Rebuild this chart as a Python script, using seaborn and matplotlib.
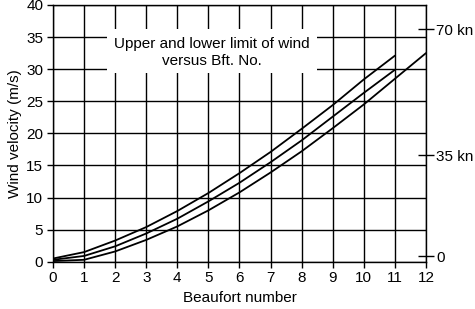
import matplotlib
matplotlib.use("Agg")
import matplotlib.pyplot as plt
from matplotlib.patches import Rectangle
import seaborn as sns
import pandas as pd

beaufort_upper = [0, 1, 2, 3, 4, 5, 6, 7, 8, 9, 10, 11]
upper_limit = [0.5, 1.5, 3.3, 5.4, 7.9, 10.7, 13.8, 17.1, 20.7, 24.4, 28.4, 32.1]
beaufort_mid = [0, 1, 2, 3, 4, 5, 6, 7, 8, 9, 10, 11]
mid_value = [0.3, 0.9, 2.4, 4.4, 6.7, 9.4, 12.3, 15.5, 18.9, 22.6, 26.3, 29.9]
beaufort_lower = [0, 1, 2, 3, 4, 5, 6, 7, 8, 9, 10, 11, 12]
lower_limit = [0.1, 0.3, 1.6, 3.4, 5.5, 8.0, 10.8, 13.9, 17.2, 20.8, 24.5, 28.5, 32.5]

x_ticks = list(range(0, 13))
y_ticks = [0, 5, 10, 15, 20, 25, 30, 35, 40]
knot_positions = [0.85, 16.6, 36.2]
knot_labels = ["0", "35 kn", "70 kn"]
title_text = "Upper and lower limit of wind\nversus Bft. No."

sns.set_theme(style="white")
plt.rcParams["font.family"] = ["Liberation Sans", "DejaVu Sans"]

fig = plt.figure(figsize=(4.75, 3.09), dpi=100)
ax = fig.add_axes([0.1116, 0.153, 0.7852, 0.831])

df = pd.concat([
    pd.DataFrame({"B": beaufort_upper, "v": upper_limit, "s": "upper"}),
    pd.DataFrame({"B": beaufort_mid, "v": mid_value, "s": "mid"}),
    pd.DataFrame({"B": beaufort_lower, "v": lower_limit, "s": "lower"}),
])
sns.lineplot(data=df, x="B", y="v", hue="s", palette=["black"] * 3,
             legend=False, ax=ax, linewidth=1.3, zorder=3, sort=False)

ax.set_xlim(0, 12)
ax.set_ylim(0, 40)
ax.set_xticks(x_ticks)
ax.set_yticks(y_ticks)
ax.grid(True, color="black", linewidth=1.0)
ax.set_axisbelow(True)
for s in ax.spines.values():
    s.set_color("black")
    s.set_linewidth(1.0)
ax.tick_params(axis="both", direction="out", length=4, width=1.0,
               color="black", labelsize=11, labelcolor="black", pad=3,
               left=True, bottom=True)
ax.set_xlabel("Beaufort number", fontsize=11, color="black", labelpad=4)
ax.set_ylabel("Wind velocity (m/s)", fontsize=11, color="black", labelpad=3)

ax.add_patch(Rectangle((1.74, 29.4), 8.48 - 1.74, 36.3 - 29.4,
                       facecolor="white", edgecolor="none", zorder=1))
ax.text(5.11, 32.6, title_text, ha="center", va="center", fontsize=11,
        color="black", linespacing=1.2, zorder=4)

ax2 = ax.twinx()
ax2.set_ylim(0, 40)
ax2.set_yticks(knot_positions)
ax2.set_yticklabels(knot_labels)
ax2.tick_params(axis="y", direction="inout", length=11, width=1.0,
                color="black", labelsize=11, labelcolor="black", pad=2)
for s in ax2.spines.values():
    s.set_visible(False)
ax2.grid(False)

fig.savefig("out.png", dpi=100)
